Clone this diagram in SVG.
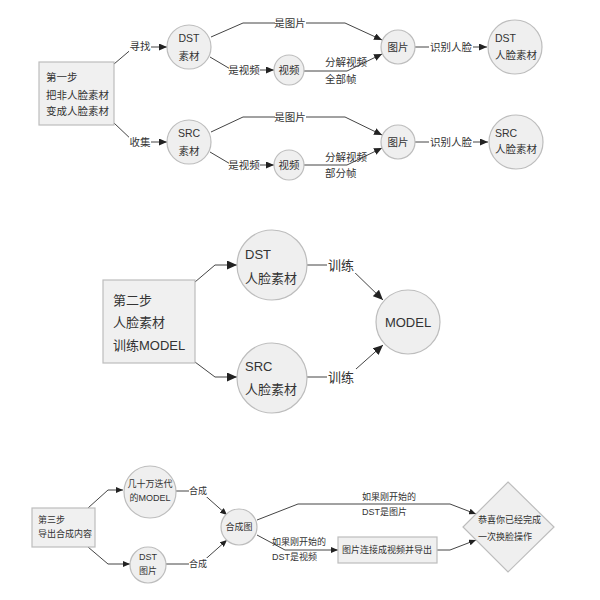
<svg xmlns="http://www.w3.org/2000/svg" width="600" height="600" viewBox="0 0 600 600">
<defs>
<style>
text{font-family:"Liberation Sans","Noto Sans CJK SC",sans-serif;fill:#333;dominant-baseline:central}
.c{fill:#efefef;stroke:#bdbdbd;stroke-width:1.2}
.b{fill:#f0f0f0;stroke:#bdbdbd;stroke-width:1.2}
.ln{fill:none;stroke:#444;stroke-width:1}
.s1{font-size:10.5px}
.s2{font-size:13px}
.s3{font-size:9px}
.m{text-anchor:middle}
.bg{fill:#fff}
</style>
<marker id="a" markerUnits="userSpaceOnUse" markerWidth="8" markerHeight="7" refX="8" refY="3.5" orient="auto"><path d="M0,0 L8,3.5 L0,7 z" fill="#222"/></marker>
<marker id="a2" markerUnits="userSpaceOnUse" markerWidth="10" markerHeight="9" refX="10" refY="4.5" orient="auto"><path d="M0,0 L10,4.5 L0,9 z" fill="#222"/></marker>
<marker id="a3" markerUnits="userSpaceOnUse" markerWidth="7" markerHeight="6" refX="7" refY="3" orient="auto"><path d="M0,0 L7,3 L0,6 z" fill="#222"/></marker>
</defs>
<rect width="600" height="600" fill="#fff"/>

<g id="connectors">
<!-- section 1 -->
<path class="ln" d="M114,64 L134,47 L167,47" marker-end="url(#a)"/>
<path class="ln" d="M114,123 L134,142 L167,142" marker-end="url(#a)"/>
<path class="ln" d="M211,37 L243,23 L345,23 L382,40" marker-end="url(#a)"/>
<path class="ln" d="M210,57 L232,70 L274,70" marker-end="url(#a)"/>
<path class="ln" d="M304,71 L347,71 L382,54" marker-end="url(#a)"/>
<path class="ln" d="M415,47 L487,47" marker-end="url(#a)"/>
<path class="ln" d="M211,132 L243,117 L345,117 L382,135" marker-end="url(#a)"/>
<path class="ln" d="M210,152 L232,165 L274,165" marker-end="url(#a)"/>
<path class="ln" d="M304,165 L347,165 L382,148" marker-end="url(#a)"/>
<path class="ln" d="M415,142 L488,142" marker-end="url(#a)"/>
<!-- section 2 -->
<path class="ln" d="M195,282 L215,265 L237,265" marker-end="url(#a2)"/>
<path class="ln" d="M195,362 L215,377 L237,377" marker-end="url(#a2)"/>
<path class="ln" d="M307,265 L347,265 L383,300" marker-end="url(#a2)"/>
<path class="ln" d="M307,377 L347,377 L383,345" marker-end="url(#a2)"/>
<!-- section 3 -->
<path class="ln" d="M88,508 L108,490 L123,490" marker-end="url(#a3)"/>
<path class="ln" d="M88,547 L108,564 L130,564" marker-end="url(#a3)"/>
<path class="ln" d="M176,491 L200,491 L227,515" marker-end="url(#a3)"/>
<path class="ln" d="M166,564 L200,564 L227,540" marker-end="url(#a3)"/>
<path class="ln" d="M257,520 L298,504 L450,504 L476,514" marker-end="url(#a3)"/>
<path class="ln" d="M257,535 L285,550 L338,550" marker-end="url(#a3)"/>
<path class="ln" d="M437,550 L450,550 L476,540" marker-end="url(#a3)"/>

<!-- labels -->
<rect class="bg" x="129" y="39" width="22" height="14"/><text class="s1 m" x="140" y="46">寻找</text>
<rect class="bg" x="129" y="135" width="22" height="14"/><text class="s1 m" x="140" y="142">收集</text>
<rect class="bg" x="275" y="16" width="31" height="14"/><text class="s1 m" x="290" y="23">是图片</text>
<rect class="bg" x="229" y="63" width="31" height="14"/><text class="s1 m" x="244" y="70">是视频</text>
<text class="s1" x="325" y="62">分解视频</text>
<text class="s1" x="325" y="79">全部帧</text>
<rect class="bg" x="429" y="40" width="44" height="14"/><text class="s1 m" x="451" y="47">识别人脸</text>
<rect class="bg" x="275" y="110" width="31" height="14"/><text class="s1 m" x="290" y="117">是图片</text>
<rect class="bg" x="229" y="158" width="31" height="14"/><text class="s1 m" x="244" y="165">是视频</text>
<text class="s1" x="325" y="157">分解视频</text>
<text class="s1" x="325" y="173">部分帧</text>
<rect class="bg" x="429" y="135" width="44" height="14"/><text class="s1 m" x="451" y="142">识别人脸</text>

<rect class="bg" x="327" y="257" width="29" height="16"/><text class="s2 m" x="341" y="265">训练</text>
<rect class="bg" x="327" y="369" width="29" height="16"/><text class="s2 m" x="341" y="377">训练</text>

<rect class="bg" x="189" y="485" width="19" height="12"/><text class="s3 m" x="198" y="491">合成</text>
<rect class="bg" x="189" y="558" width="19" height="12"/><text class="s3 m" x="198" y="564">合成</text>
<text class="s3" x="362" y="497">如果刚开始的</text>
<text class="s3" x="362" y="512">DST是图片</text>
<text class="s3" x="272" y="542">如果刚开始的</text>
<text class="s3" x="272" y="557">DST是视频</text>
</g>

<!-- section 1 nodes -->
<g id="step1">
<rect class="b" x="39" y="62" width="75" height="63"/>
<text class="s1" x="46" y="77">第一步</text>
<text class="s1" x="46" y="95">把非人脸素材</text>
<text class="s1" x="46" y="111">变成人脸素材</text>
</g>
<g id="dst1"><circle class="c" cx="189" cy="47" r="22"/><text class="s1 m" x="189" y="38">DST</text><text class="s1 m" x="189" y="56">素材</text></g>
<g id="src1"><circle class="c" cx="189" cy="142" r="22"/><text class="s1 m" x="189" y="133">SRC</text><text class="s1 m" x="189" y="151">素材</text></g>
<g id="video1"><circle class="c" cx="289" cy="70" r="15"/><text class="s1 m" x="289" y="70">视频</text></g>
<g id="video2"><circle class="c" cx="289" cy="165" r="15"/><text class="s1 m" x="289" y="165">视频</text></g>
<g id="pic1"><circle class="c" cx="398" cy="47" r="17"/><text class="s1 m" x="398" y="47">图片</text></g>
<g id="pic2"><circle class="c" cx="398" cy="142" r="17"/><text class="s1 m" x="398" y="142">图片</text></g>
<g id="dstface1"><circle class="c" cx="515" cy="47" r="27"/><text class="s1" x="495" y="38">DST</text><text class="s1" x="495" y="55">人脸素材</text></g>
<g id="srcface1"><circle class="c" cx="516" cy="142" r="27"/><text class="s1" x="495" y="133">SRC</text><text class="s1" x="495" y="149">人脸素材</text></g>

<!-- section 2 nodes -->
<g id="step2">
<rect class="b" x="103" y="280" width="92" height="83"/>
<text class="s2" x="113" y="300">第二步</text>
<text class="s2" x="113" y="322">人脸素材</text>
<text class="s2" x="113" y="345">训练MODEL</text>
</g>
<g id="dstface2"><circle class="c" cx="272" cy="265" r="35"/><text class="s2" x="245" y="254">DST</text><text class="s2" x="245" y="278">人脸素材</text></g>
<g id="srcface2"><circle class="c" cx="272" cy="378" r="35"/><text class="s2" x="245" y="366">SRC</text><text class="s2" x="245" y="389">人脸素材</text></g>
<g id="model"><circle class="c" cx="408" cy="322" r="32"/><text class="s2 m" x="408" y="322">MODEL</text></g>

<!-- section 3 nodes -->
<g id="step3">
<rect class="b" x="32" y="508" width="63" height="39"/>
<text class="s3" x="38" y="520">第三步</text>
<text class="s3" x="38" y="534">导出合成内容</text>
</g>
<g id="model3"><circle class="c" cx="150" cy="492" r="26"/><text class="s3 m" x="150" y="484">几十万迭代</text><text class="s3 m" x="150" y="498">的MODEL</text></g>
<g id="dstpic3"><circle class="c" cx="148" cy="565" r="18"/><text class="s3 m" x="148" y="557">DST</text><text class="s3 m" x="148" y="571">图片</text></g>
<g id="compose"><circle class="c" cx="239" cy="527" r="18"/><text class="s3 m" x="239" y="527">合成图</text></g>
<g id="export"><rect class="b" x="338" y="537" width="99" height="26"/><text class="s3 m" x="387" y="550">图片连接成视频并导出</text></g>
<g id="done"><polygon class="c" points="508,482 554,527 508,572 463,527"/><text class="s3" x="478" y="520">恭喜你已经完成</text><text class="s3" x="478" y="537">一次换脸操作</text></g>
</svg>
